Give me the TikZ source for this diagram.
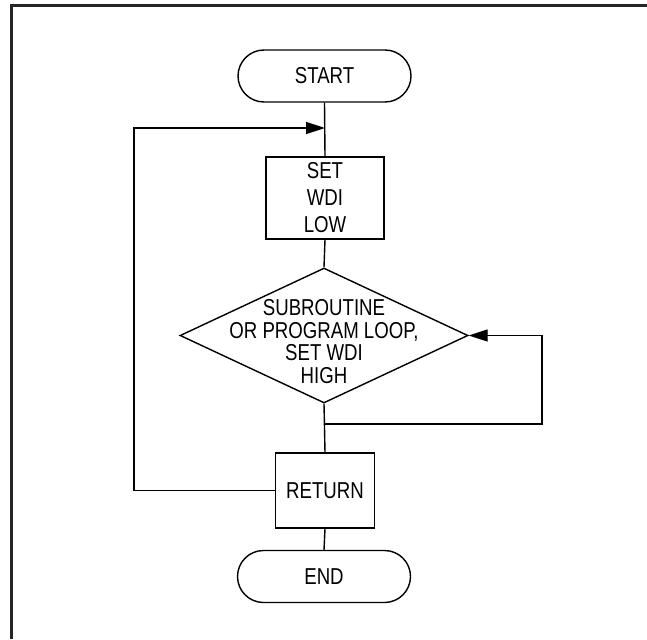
\documentclass[tikz,border=0pt]{standalone}
\usepackage{fontspec}
\setmainfont{Liberation Sans}[FakeStretch=0.81]
\usetikzlibrary{shapes.misc,shapes.geometric,arrows.meta}
\begin{document}
\begin{tikzpicture}[x=1pt,y=-1pt,
  line width=1.4pt,
  term/.style={draw, rounded rectangle, minimum width=173pt, minimum height=52pt, inner sep=0pt, font=\fontsize{23}{22.5}\selectfont},
  procbox/.style={draw, rectangle, inner sep=0pt, align=center},
  decis/.style={draw, diamond, inner sep=0pt, minimum width=288pt, minimum height=135pt},
  lbl/.style={align=center, inner sep=0pt},
  flow/.style={-{Triangle[length=19pt,width=12pt]}},
  frame/.style={line width=2.5pt, draw=black!85}
]
\useasboundingbox (0,0) rectangle (647,639);
\draw[frame] (11.5,639) -- (11.5,5.5) -- (647,5.5);

\node[term] (start) at (324.5,76) {START};
\node[procbox, minimum width=118pt, minimum height=82pt, font=\fontsize{23}{27}\selectfont] (setlow) at (325,198) {SET\\WDI\\LOW};
\node[decis] (dec) at (324,335.5) {};
\node[lbl, font=\fontsize{23}{22.5}\selectfont] (dectext) at (324,341.5) {SUBROUTINE\\OR PROGRAM LOOP,\\SET WDI\\HIGH};
\node[procbox, minimum width=99pt, minimum height=75pt, font=\fontsize{23}{22.5}\selectfont] (ret) at (325,490.5) {RETURN};
\node[term] (end) at (324,576.5) {END};

\coordinate (join) at (325,128);
\coordinate (split) at (325,424);
\coordinate (rt) at (542,424);
\coordinate (rtop) at (542,335.5);
\coordinate (lb) at (134,490.5);
\coordinate (lt) at (134,128);

\draw (start.south) -- (setlow.north);
\draw (setlow.south) -- (dec.north);
\draw (dec.south) -- (ret.north);
\draw[flow] (split) -- (rt) -- (rtop) -- (dec.east);
\draw[flow] (ret.west) -- (lb) -- (lt) -- (join);
\draw (ret.south) -- (end.north);
\end{tikzpicture}
\end{document}
